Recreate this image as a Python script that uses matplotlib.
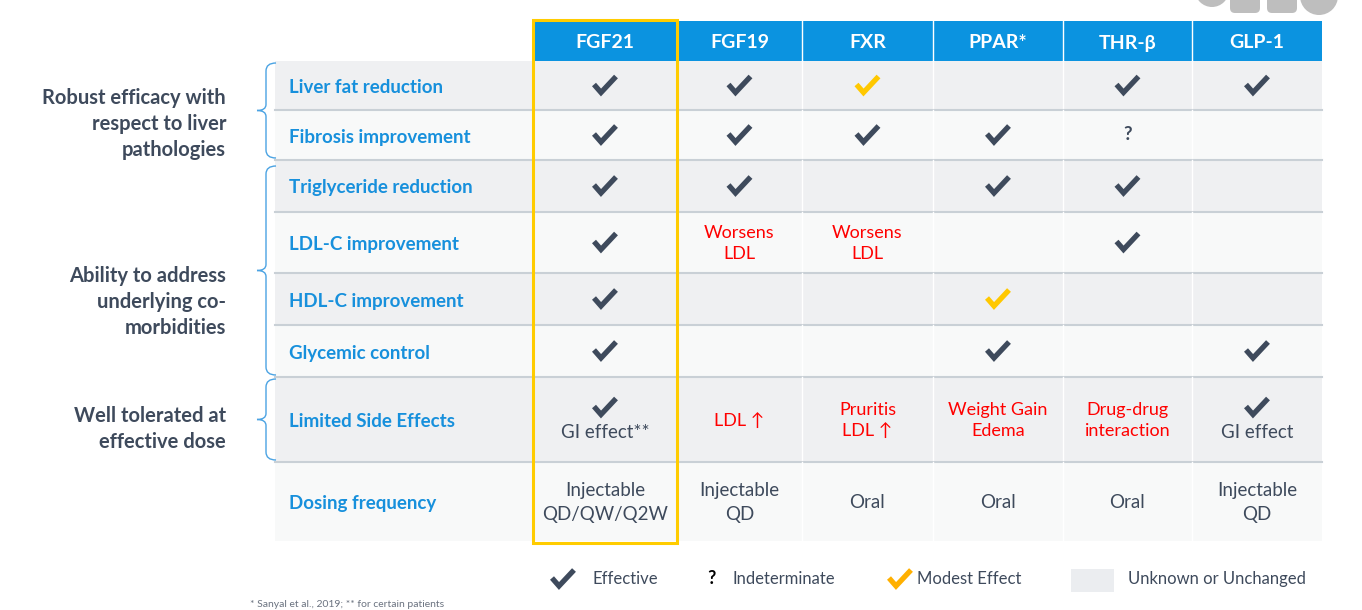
import matplotlib.pyplot as plt
from matplotlib.patches import Rectangle, FancyBboxPatch, Circle
from matplotlib.path import Path
from matplotlib.patches import PathPatch

# table content
columns = ["FGF21", "FGF19", "FXR", "PPAR*", "THR-β", "GLP-1"]
row_labels = ["Liver fat reduction", "Fibrosis improvement", "Triglyceride reduction",
              "LDL-C improvement", "HDL-C improvement", "Glycemic control",
              "Limited Side Effects", "Dosing frequency"]

# marks: Y = effective, M = modest, ? = indeterminate, "" = unknown / unchanged
marks = [
    ["Y", "Y", "M", "", "Y", "Y"],
    ["Y", "Y", "Y", "Y", "?", ""],
    ["Y", "Y", "", "Y", "Y", ""],
    ["Y", "", "", "", "Y", ""],
    ["Y", "", "", "M", "", ""],
    ["Y", "", "", "Y", "", "Y"],
    ["Y", "", "", "", "", "Y"],
    ["", "", "", "", "", ""],
]
# red notes (negative effects)
red_notes = [
    ["", "", "", "", "", ""],
    ["", "", "", "", "", ""],
    ["", "", "", "", "", ""],
    ["", "Worsens\nLDL", "Worsens\nLDL", "", "", ""],
    ["", "", "", "", "", ""],
    ["", "", "", "", "", ""],
    ["", "LDL ↑", "Pruritis\nLDL ↑", "Weight Gain\nEdema", "Drug-drug\ninteraction", ""],
    ["", "", "", "", "", ""],
]
# plain notes
notes = [
    ["", "", "", "", "", ""],
    ["", "", "", "", "", ""],
    ["", "", "", "", "", ""],
    ["", "", "", "", "", ""],
    ["", "", "", "", "", ""],
    ["", "", "", "", "", ""],
    ["GI effect**", "", "", "", "", "GI effect"],
    ["Injectable\nQD/QW/Q2W", "Injectable\nQD", "Oral", "Oral", "Oral", "Injectable\nQD"],
]

group_labels = ["Robust efficacy with\nrespect to liver\npathologies",
                "Ability to address\nunderlying co-\nmorbidities",
                "Well tolerated at\neffective dose"]
group_rows = [(0, 1), (2, 5), (6, 6)]

legend_items = [("Y", "Effective"), ("?", "Indeterminate"), ("M", "Modest Effect"),
                ("box", "Unknown or Unchanged")]
footnote = "* Sanyal et al., 2019; ** for certain patients"

# layout (pixels)
col_edges = [533, 677, 802, 933, 1063, 1192, 1322]
row_edges = [61, 110, 160, 212, 273, 325, 377, 462, 541]
label_x0 = 275
header_top = 21

BLUE = "#0B93E0"
LABEL_BLUE = "#1790DC"
DARK = "#3E4A5C"
RED = "#FF0000"
GOLD = "#FFC800"
GRAY_ROW = "#EFF0F2"
LIGHT_ROW = "#F8F9F9"
SEP = "#C9D0D6"

plt.rcParams["font.family"] = ["Lato", "DejaVu Sans"]

fig = plt.figure(figsize=(13.62, 6.10), dpi=100)
ax = fig.add_axes([0, 0, 1, 1])
ax.set_xlim(0, 1362)
ax.set_ylim(610, 0)
ax.axis("off")


def check(x, y, color, s=1.0):
    # heavy check mark drawn as a bent stroke
    ax.plot([x - 11 * s, x - 4 * s, x + 11 * s], [y - 1 * s, y + 7 * s, y - 9 * s],
            color=color, lw=3.8 * s, solid_capstyle="butt", solid_joinstyle="miter", zorder=4)


# logo fragment at top right
ax.add_patch(Circle((1212, -10), 17, color="#BEBEBE", lw=0))
ax.add_patch(FancyBboxPatch((1230, -20), 30, 33, boxstyle="round,pad=0,rounding_size=5",
                            color="#BEBEBE", lw=0))
ax.add_patch(FancyBboxPatch((1267, -20), 30, 33, boxstyle="round,pad=0,rounding_size=5",
                            color="#BEBEBE", lw=0))
ax.add_patch(Circle((1319, -4), 19, color="#BEBEBE", lw=0))

# header
ax.add_patch(Rectangle((col_edges[0], header_top), col_edges[-1] - col_edges[0],
                       row_edges[0] - header_top, color=BLUE, lw=0))
for j, name in enumerate(columns):
    cx = (col_edges[j] + col_edges[j + 1]) / 2
    ax.text(cx, 43, name, ha="center", va="center", color="white",
            fontsize=14, fontweight="bold")
    if j > 0:
        ax.plot([col_edges[j], col_edges[j]], [header_top, row_edges[0]], color="white", lw=1)

# rows
for i, label in enumerate(row_labels):
    y0, y1 = row_edges[i], row_edges[i + 1]
    fill = GRAY_ROW if i % 2 == 0 else LIGHT_ROW
    ax.add_patch(Rectangle((label_x0, y0), col_edges[-1] - label_x0, y1 - y0, color=fill, lw=0))
    for j in range(1, len(columns)):
        ax.plot([col_edges[j], col_edges[j]], [y0, y1], color="white", lw=1)
    if i < len(row_labels) - 1:
        ax.plot([label_x0, col_edges[-1]], [y1, y1], color=SEP, lw=1.5)
    cy = (y0 + y1) / 2
    ax.text(289, cy + 2, label, ha="left", va="center", color=LABEL_BLUE,
            fontsize=13.5, fontweight="bold")

    for j in range(len(columns)):
        cx = (col_edges[j] + col_edges[j + 1]) / 2
        m, red, note = marks[i][j], red_notes[i][j], notes[i][j]
        my = cy - 12 if note else cy
        ny = cy + 13 if m else cy + 1
        if m == "Y":
            check(cx, my, DARK)
        elif m == "M":
            check(cx, my, GOLD)
        elif m == "?":
            ax.text(cx, my, "?", ha="center", va="center", color=DARK, fontsize=13.5,
                    fontweight="bold")
        if red:
            ax.text(cx, cy + 1, red, ha="center", va="center", color=RED, fontsize=13,
                    linespacing=1.4)
        if note:
            ax.text(cx, ny, note, ha="center", va="center", color=DARK, fontsize=13.5,
                    linespacing=1.45)

# highlight box around FGF21
ax.add_patch(Rectangle((col_edges[0], 20), col_edges[1] - col_edges[0], 523,
                       fill=False, edgecolor="#FFCC00", lw=2.2, zorder=5))

# braces and group labels
group_text_y = [124, 302, 429]
for (r0, r1), txt, ty in zip(group_rows, group_labels, group_text_y):
    top = row_edges[r0] + 2
    bot = row_edges[r1 + 1] - 2
    if r0 == 2:
        top += 4
    mid = (top + bot) / 2
    xr, xv, xt = 276, 266, 257
    verts = [(xr, top), (xv, top), (xv, top + 8),
             (xv, mid - 6), (xv, mid), (xt, mid),
             (xv, mid), (xv, mid + 6),
             (xv, bot - 8), (xv, bot), (xr, bot)]
    codes = [Path.MOVETO, Path.CURVE3, Path.CURVE3,
             Path.LINETO, Path.CURVE3, Path.CURVE3,
             Path.CURVE3, Path.CURVE3,
             Path.LINETO, Path.CURVE3, Path.CURVE3]
    ax.add_patch(PathPatch(Path(verts, codes), fill=False, edgecolor="#4BA3E3", lw=1))
    ax.text(226, ty, txt, ha="right", va="center", color=DARK, fontsize=14.5,
            fontweight="bold", linespacing=1.38)

# legend
legend_x = [563, 711, 900, 1071]
for (kind, txt), lx in zip(legend_items, legend_x):
    ly = 579
    if kind == "Y":
        check(lx, ly, DARK)
        tx = lx + 30
    elif kind == "?":
        ax.text(lx, ly, "?", ha="center", va="center", color="black", fontsize=13,
                fontweight="bold")
        tx = lx + 22
    elif kind == "M":
        check(lx, ly, "#FFB000")
        tx = lx + 17
    else:
        ax.add_patch(Rectangle((lx, 569), 43, 23, color="#EBEDF0", lw=0))
        tx = lx + 57
    ax.text(tx, ly, txt, ha="left", va="center", color=DARK, fontsize=12)

ax.text(250, 609, footnote, ha="left", va="bottom", color="#6B7380", fontsize=7.5)

fig.savefig("out.png", dpi=100)
